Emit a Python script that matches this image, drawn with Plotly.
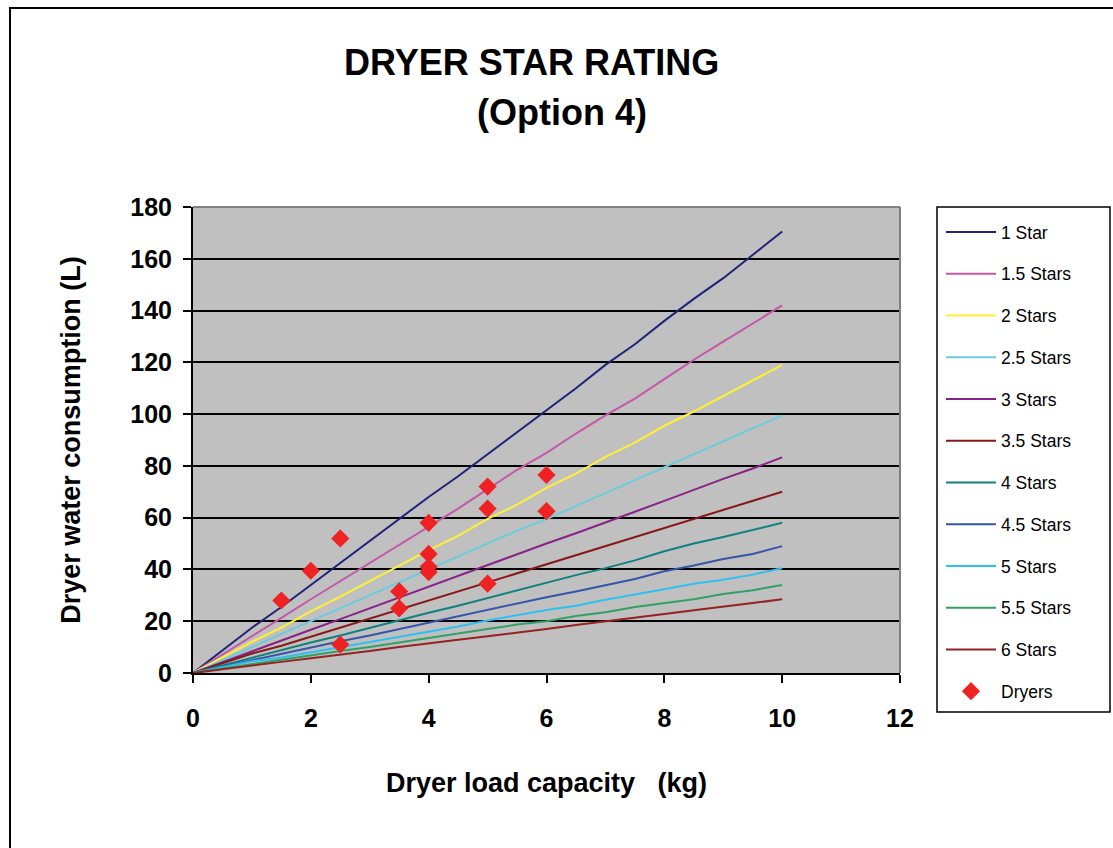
import plotly.graph_objects as go

x_load = [0, 1, 1.5, 2, 2.5, 3, 3.5, 4, 4.5, 5, 5.5, 6, 6.5, 7, 7.5, 8, 8.5, 9, 9.5, 10]

star_names = ["1 Star", "1.5 Stars", "2 Stars", "2.5 Stars", "3 Stars", "3.5 Stars",
              "4 Stars", "4.5 Stars", "5 Stars", "5.5 Stars", "6 Stars"]

s1   = [0, 17.5, 25.5, 34.0, 42.5, 51.0, 59.5, 68.0, 76.0, 84.5, 93.0, 101.5, 110.0, 119.0, 127.0, 136.0, 144.5, 152.5, 161.5, 170.5]
s15  = [0, 14.0, 21.3, 28.5, 35.5, 42.5, 49.8, 56.8, 63.5, 71.0, 78.5, 85.0, 92.5, 99.5, 106.0, 113.5, 121.0, 128.0, 135.0, 142.0]
s2   = [0, 12.0, 17.5, 23.8, 29.5, 35.5, 41.5, 47.5, 53.0, 59.5, 65.0, 71.5, 77.0, 83.5, 89.0, 95.5, 101.0, 107.0, 113.0, 119.0]
s25  = [0, 10.0, 15.0, 20.0, 25.0, 30.0, 35.0, 40.0, 45.0, 50.0, 55.0, 59.5, 64.5, 69.5, 74.5, 79.5, 84.5, 89.5, 94.5, 99.5]
s3   = [0, 8.5, 12.5, 16.7, 20.8, 25.0, 29.2, 33.3, 37.5, 41.5, 45.8, 50.0, 54.0, 58.0, 62.3, 66.5, 70.8, 75.0, 79.0, 83.3]
s35  = [0, 7.5, 10.5, 14.0, 17.5, 21.0, 24.5, 28.0, 31.5, 35.0, 38.5, 42.0, 45.5, 49.0, 52.3, 56.0, 59.5, 63.0, 66.5, 70.0]
s4   = [0, 6.0, 8.8, 11.8, 14.5, 17.5, 20.3, 23.3, 26.0, 29.0, 32.0, 35.0, 37.8, 40.5, 43.5, 47.0, 50.0, 52.5, 55.3, 58.0]
s45  = [0, 5.0, 7.3, 9.8, 12.3, 14.5, 17.0, 19.5, 21.8, 24.5, 26.8, 29.3, 31.5, 34.0, 36.3, 39.3, 41.5, 44.0, 46.0, 49.0]
s5   = [0, 4.5, 6.0, 8.0, 10.0, 12.0, 14.0, 16.0, 18.0, 20.3, 22.3, 24.3, 26.0, 28.3, 30.3, 32.5, 34.5, 36.0, 38.0, 40.5]
s55  = [0, 3.5, 5.0, 7.0, 8.5, 10.0, 11.8, 13.5, 15.2, 17.0, 18.7, 20.0, 22.0, 23.5, 25.5, 27.0, 28.5, 30.5, 32.0, 34.0]
s6   = [0, 3.0, 4.3, 5.7, 7.0, 8.5, 10.0, 11.5, 12.8, 14.2, 15.5, 17.0, 18.5, 20.0, 21.3, 22.8, 24.2, 25.5, 27.0, 28.5]

star_values = [s1, s15, s2, s25, s3, s35, s4, s45, s5, s55, s6]
star_colors = ["#22227A", "#C458A8", "#FFF033", "#6CCCDC", "#882288", "#881818",
               "#108080", "#3555AA", "#2EC0F0", "#33A066", "#962222"]

dryer_load = [1.5, 2, 2.5, 2.5, 3.5, 3.5, 4, 4, 4, 4, 5, 5, 5, 6, 6]
dryer_water = [28, 39.5, 52, 11, 31.5, 25, 58, 46, 41, 39, 72, 63.5, 34.5, 76.5, 62.5]

x_ticks = [0, 2, 4, 6, 8, 10, 12]
y_ticks = [0, 20, 40, 60, 80, 100, 120, 140, 160, 180]

W, H = 1113, 848
L, R, T, B = 193, 213, 207, 175
PW, PH = W - L - R, H - T - B


def px(xp):
    return (xp - L) / PW


def py(yp):
    return (H - B - yp) / PH


fig = go.Figure()
for i, (name, vals, col) in enumerate(zip(star_names, star_values, star_colors)):
    fig.add_trace(go.Scatter(x=x_load, y=vals, mode="lines", name=name,
                             line=dict(color=col, width=2), legendgroup=f"g{i}"))
fig.add_trace(go.Scatter(x=dryer_load, y=dryer_water, mode="markers", name="Dryers",
                         marker=dict(symbol="diamond", size=14, color="#EE2222"),
                         legendgroup="gd"))

FONT = "Liberation Sans, Arial, sans-serif"

fig.update_layout(
    width=W, height=H,
    paper_bgcolor="white", plot_bgcolor="#C0C0C0",
    margin=dict(l=L, r=R, t=T, b=B, autoexpand=False),
    font=dict(family=FONT, color="black"),
    showlegend=True,
    legend=dict(x=px(941), y=py(214), xanchor="left", yanchor="top", maxheight=600,
                bgcolor="rgba(0,0,0,0)", borderwidth=0, itemwidth=50,
                font=dict(size=17.5, family=FONT), tracegroupgap=16),
    xaxis=dict(range=[0, 12], tickvals=x_ticks, showgrid=False, zeroline=False,
               showline=True, linecolor="black", linewidth=2, automargin=False,
               ticks="outside", ticklen=8, tickcolor="black", tickwidth=2,
               ticklabelstandoff=14,
               tickfont=dict(size=25, family=FONT, weight="bold"),
               title=dict(text="Dryer load capacity   (kg)", standoff=42,
                          font=dict(size=27, family=FONT, weight="bold"))),
    yaxis=dict(range=[0, 180], tickvals=y_ticks, showgrid=True, gridcolor="black",
               gridwidth=2, zeroline=False, automargin=False,
               showline=True, linecolor="black", linewidth=2,
               ticks="outside", ticklen=8, tickcolor="black", tickwidth=2,
               ticklabelstandoff=6,
               tickfont=dict(size=25, family=FONT, weight="bold"),
               title=dict(text="Dryer water consumption (L)", standoff=42,
                          font=dict(size=27, family=FONT, weight="bold"))),
    annotations=[
        dict(text="DRYER STAR RATING", xref="paper", yref="paper",
             x=px(531), y=py(62), xanchor="center", yanchor="middle",
             showarrow=False, font=dict(size=36, family=FONT, weight="bold")),
        dict(text="(Option 4)", xref="paper", yref="paper",
             x=px(562), y=py(112), xanchor="center", yanchor="middle",
             showarrow=False, font=dict(size=36, family=FONT, weight="bold")),
    ],
    shapes=[
        # outer chart border
        dict(type="rect", xref="paper", yref="paper",
             x0=px(10), x1=px(1116), y0=py(860), y1=py(8),
             line=dict(color="black", width=2), fillcolor="rgba(0,0,0,0)", layer="below"),
        # legend box
        dict(type="rect", xref="paper", yref="paper",
             x0=px(937), x1=px(1110), y0=py(712), y1=py(207),
             line=dict(color="black", width=1.5), fillcolor="white", layer="below"),
        # gray top/right plot border
        dict(type="line", xref="paper", yref="paper", x0=0, x1=1, y0=1, y1=1,
             line=dict(color="#808080", width=2)),
        dict(type="line", xref="paper", yref="paper", x0=1, x1=1, y0=0, y1=1,
             line=dict(color="#808080", width=2)),
    ],
)

fig.write_html("out.html", config={"displayModeBar": False},
               post_script="document.body.style.margin='0';")
